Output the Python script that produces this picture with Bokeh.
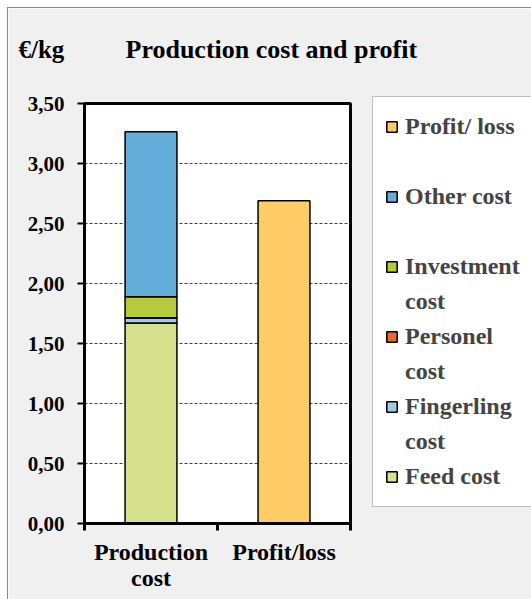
from bokeh.plotting import figure
from bokeh.models import (ColumnDataSource, FixedTicker, Legend, LegendItem,
                          Label, Range1d)
from bokeh.embed import file_html
from bokeh.resources import INLINE

# ---- data -------------------------------------------------------------
categories = ["Production\ncost", "Profit/loss"]
cost_parts = ["feed", "fingerling", "personel", "investment", "other"]
cost_names = ["Feed cost", "Fingerling\ncost", "Personel\ncost",
              "Investment\ncost", "Other cost"]
cost_values = [1.67, 0.04, 0.005, 0.175, 1.375]       # €/kg
profit_name = "Profit/ loss"
profit_value = 2.69                                     # €/kg
y_ticks = [0.0, 0.5, 1.0, 1.5, 2.0, 2.5, 3.0, 3.5]
y_tick_labels = ["0,00", "0,50", "1,00", "1,50", "2,00", "2,50", "3,00", "3,50"]

part_colors = ["#d7e18e", "#9fcbe8", "#e46c2a", "#b6ca3c", "#64acd9"]
profit_color = "#fdcc66"

FONT = "Liberation Serif"
BG = "#f0f0f0"

# ---- figure -----------------------------------------------------------
p = figure(frame_width=266, frame_height=420,
           x_range=Range1d(0, 2), y_range=Range1d(0, 3.5),
           output_backend="svg", toolbar_location=None,
           min_border_left=76, min_border_top=95,
           min_border_right=181, min_border_bottom=76)
p.margin = (7, 0, 0, 7)
p.styles = {"border-left": "1px solid #8a8a8a", "border-top": "1px solid #8a8a8a"}
p.background_fill_color = "white"
p.border_fill_color = BG
p.outline_line_color = "black"
p.outline_line_width = 3

# stacked production-cost bar
src = ColumnDataSource(dict(x=[0.5], **{k: [v] for k, v in zip(cost_parts, cost_values)}))
stack = p.vbar_stack(cost_parts, x="x", width=0.39, source=src,
                     color=part_colors, line_color="black", line_width=1.5)
# profit bar
profit = p.vbar(x=[1.5], top=[profit_value], width=0.39,
                fill_color=profit_color, line_color="black", line_width=1.5)
# empty renderer used for legend rows that carry only text
text_only = p.vbar(x=[], top=[], width=0.39, fill_alpha=0, line_alpha=0)

# ---- axes -------------------------------------------------------------
yax = p.yaxis[0]
yax.ticker = FixedTicker(ticks=y_ticks, minor_ticks=[])
yax.major_label_overrides = {t: s for t, s in zip(y_ticks, y_tick_labels)}
yax.axis_line_width = 3
yax.major_tick_line_width = 2
yax.major_tick_out = 7
yax.major_tick_in = 0
yax.major_label_standoff = 13
yax.major_label_text_font = FONT
yax.major_label_text_font_style = "bold"
yax.major_label_text_font_size = "21px"
yax.major_label_text_color = "black"

xax = p.xaxis[0]
xax.ticker = FixedTicker(ticks=[0.5, 1.5], minor_ticks=[0, 1, 2])
xax.major_label_overrides = {0.5: categories[0], 1.5: categories[1]}
xax.axis_line_width = 3
xax.major_tick_line_color = None
xax.major_tick_out = 0
xax.major_tick_in = 0
xax.minor_tick_line_color = "black"
xax.minor_tick_line_width = 3
xax.minor_tick_out = 7
xax.minor_tick_in = 0
xax.major_label_standoff = 8
xax.major_label_text_font = FONT
xax.major_label_text_font_style = "bold"
xax.major_label_text_font_size = "24px"
xax.major_label_text_color = "black"
xax.major_label_text_line_height = 1.0

p.xgrid.grid_line_color = None
p.ygrid.ticker = FixedTicker(ticks=y_ticks[1:-1])
p.ygrid.grid_line_color = "#404040"
p.ygrid.grid_line_dash = "3 2"
p.ygrid.grid_line_width = 1

# ---- titles (each sits in its own panel above the frame) -------------------
for txt, ys, size in (("€/kg", 54, "25px"), ("Production cost and profit", 27, "26px")):
    p.add_layout(Label(x=(-66 if txt == "€/kg" else 41), y=ys,
                       x_units="screen", y_units="screen",
                       text=txt, text_font=FONT, text_font_style="bold",
                       text_font_size=size, text_baseline="middle",
                       text_color="black"), "above")

# ---- legend: one row per text line, two rows per entry ----------------------
entries = [(profit_name, profit)] + list(reversed(list(zip(cost_names, stack))))
items = []
for i, (name, r) in enumerate(entries):
    lines = name.split("\n")
    items.append(LegendItem(label=lines[0], renderers=[r]))
    rest = lines[1:]
    if i < len(entries) - 1 and not rest:
        rest = ["\u00a0"]
    for line in rest:
        items.append(LegendItem(label=line, renderers=[text_only]))

legend = Legend(items=items, location=(22, 16),
                glyph_width=13, glyph_height=13, label_standoff=7,
                padding=12, spacing=0, label_height=35, margin=0,
                label_text_font=FONT, label_text_font_style="bold",
                label_text_font_size="24px",
                border_line_color="#7f7f7f", border_line_width=1,
                background_fill_color="white", background_fill_alpha=1)
p.add_layout(legend, "right")

open("out.html", "w").write(file_html(p, INLINE))
